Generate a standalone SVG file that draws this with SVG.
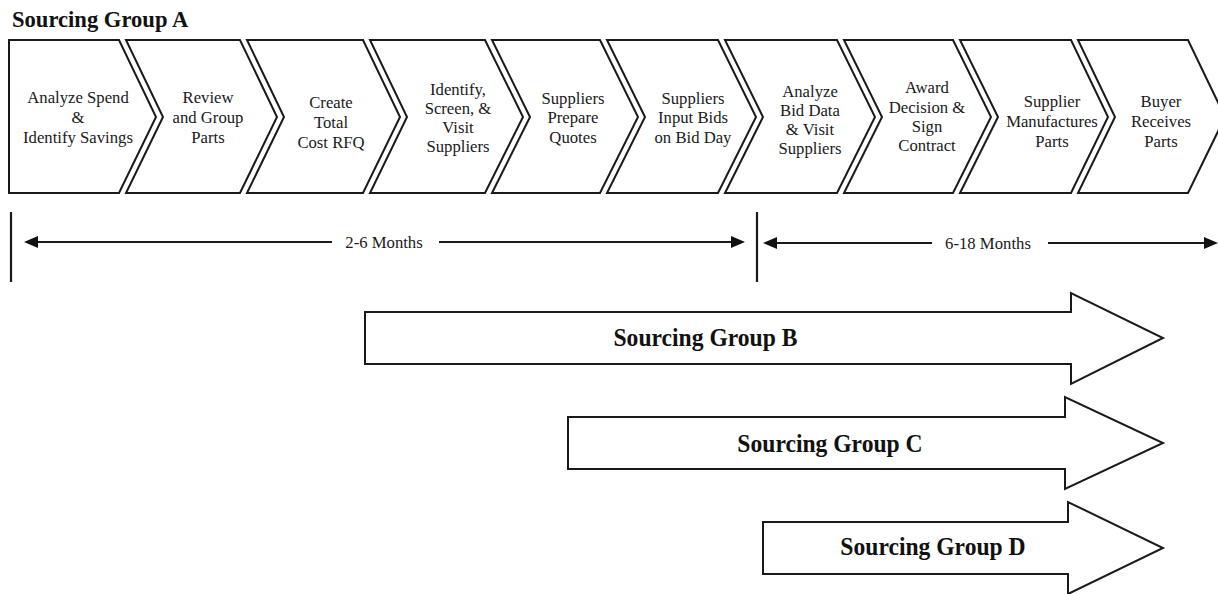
<svg xmlns="http://www.w3.org/2000/svg" width="1218" height="594" viewBox="0 0 1218 594">
<defs>
<style>
.chev{fill:#fff;stroke:#1a1a1a;stroke-width:2;stroke-linejoin:miter}
.arr{fill:#fff;stroke:#1a1a1a;stroke-width:2;stroke-linejoin:miter}
.t{font-family:"Liberation Serif","Times New Roman",serif;font-size:16.7px;fill:#1a1a1a;text-anchor:middle}
.b{font-family:"Liberation Serif","Times New Roman",serif;font-weight:bold;fill:#111;text-anchor:middle;font-size:23.6px}
.title{font-family:"Liberation Serif","Times New Roman",serif;font-weight:bold;fill:#111;font-size:22.6px}
.ln{stroke:#1a1a1a;stroke-width:2.2;fill:none}
</style>
<marker id="ah" viewBox="0 0 14 12" refX="0" refY="6" markerWidth="14" markerHeight="12" markerUnits="userSpaceOnUse" orient="auto">
<path d="M0,0 L14,6 L0,12 z" fill="#111"/>
</marker>
</defs>
<rect x="0" y="0" width="1218" height="594" fill="#fff"/>

<g id="title"><text class="title" x="12" y="27">Sourcing Group A</text></g>

<g id="step1"><polygon class="chev" points="9,40 119,40 156,117 119,193 9,193"/>
<text class="t" x="78" y="103">Analyze Spend</text><text class="t" x="78" y="123">&amp;</text><text class="t" x="78" y="143">Identify Savings</text></g>

<g id="step2"><polygon class="chev" points="126,40 240,40 277,117 240,193 126,193 163,117"/>
<text class="t" x="208" y="103">Review</text><text class="t" x="208" y="123">and Group</text><text class="t" x="208" y="143">Parts</text></g>

<g id="step3"><polygon class="chev" points="247,40 363,40 400,117 363,193 247,193 284,117"/>
<text class="t" x="331" y="108">Create</text><text class="t" x="331" y="128">Total</text><text class="t" x="331" y="148">Cost RFQ</text></g>

<g id="step4"><polygon class="chev" points="370,40 485,40 523,117 485,193 370,193 407,117"/>
<text class="t" x="458" y="95">Identify,</text><text class="t" x="458" y="114">Screen, &amp;</text><text class="t" x="458" y="133">Visit</text><text class="t" x="458" y="152">Suppliers</text></g>

<g id="step5"><polygon class="chev" points="492,40 600,40 638,117 600,193 492,193 530,117"/>
<text class="t" x="573" y="104">Suppliers</text><text class="t" x="573" y="123">Prepare</text><text class="t" x="573" y="143">Quotes</text></g>

<g id="step6"><polygon class="chev" points="607,40 718,40 756,117 718,193 607,193 645,117"/>
<text class="t" x="693" y="104">Suppliers</text><text class="t" x="693" y="123">Input Bids</text><text class="t" x="693" y="143">on Bid Day</text></g>

<g id="step7"><polygon class="chev" points="725,40 837,40 875,117 837,193 725,193 763,117"/>
<text class="t" x="810" y="97">Analyze</text><text class="t" x="810" y="116">Bid Data</text><text class="t" x="810" y="135">&amp; Visit</text><text class="t" x="810" y="154">Suppliers</text></g>

<g id="step8"><polygon class="chev" points="844,40 953,40 991,117 953,193 844,193 882,117"/>
<text class="t" x="927" y="93">Award</text><text class="t" x="927" y="113">Decision &amp;</text><text class="t" x="927" y="132">Sign</text><text class="t" x="927" y="151">Contract</text></g>

<g id="step9"><polygon class="chev" points="960,40 1071,40 1108,117 1071,193 960,193 998,117"/>
<text class="t" x="1052" y="107">Supplier</text><text class="t" x="1052" y="127">Manufactures</text><text class="t" x="1052" y="147">Parts</text></g>

<g id="step10"><polygon class="chev" points="1078,40 1188,40 1225,117 1188,193 1078,193 1115,117"/>
<text class="t" x="1161" y="107">Buyer</text><text class="t" x="1161" y="127">Receives</text><text class="t" x="1161" y="147">Parts</text></g>

<g id="connectors">
<line class="ln" x1="11" y1="212" x2="11" y2="282"/>
<line class="ln" x1="757" y1="212" x2="757" y2="282"/>
<line class="ln" x1="332" y1="242" x2="38" y2="242" marker-end="url(#ah)"/>
<line class="ln" x1="439" y1="242" x2="731" y2="242" marker-end="url(#ah)"/>
<line class="ln" x1="932" y1="243" x2="777" y2="243" marker-end="url(#ah)"/>
<line class="ln" x1="1048" y1="243" x2="1204" y2="243" marker-end="url(#ah)"/>
<text class="t" x="384" y="248">2-6 Months</text>
<text class="t" x="988" y="249">6-18 Months</text>
</g>

<g id="groupB"><polygon class="arr" points="365,312 1071,312 1071,293 1163,338 1071,384 1071,364 365,364"/>
<text class="b" transform="translate(705.5,346) scale(1,1.11)">Sourcing Group B</text></g>

<g id="groupC"><polygon class="arr" points="568,417 1065,417 1065,397 1163,443 1065,489 1065,469 568,469"/>
<text class="b" transform="translate(830,452) scale(1,1.11)">Sourcing Group C</text></g>

<g id="groupD"><polygon class="arr" points="763,522 1068,522 1068,502 1163,548 1068,594 1068,574 763,574"/>
<text class="b" transform="translate(933,555) scale(1,1.11)">Sourcing Group D</text></g>
</svg>
